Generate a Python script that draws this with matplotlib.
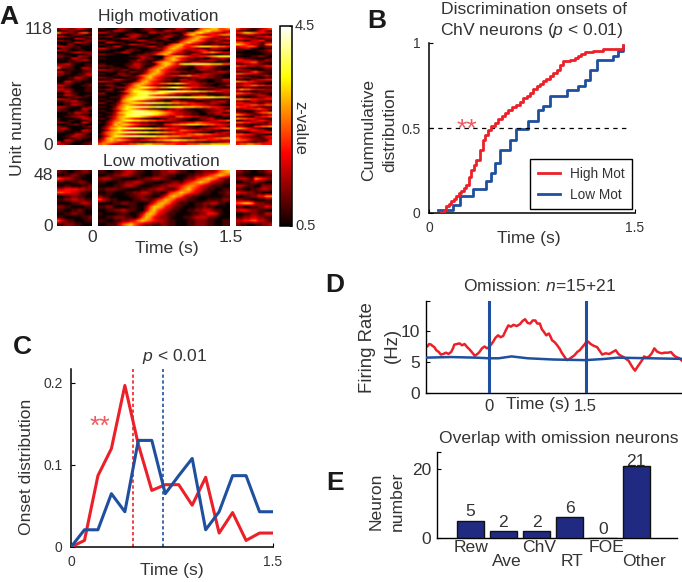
import numpy as np
import matplotlib
matplotlib.use("Agg")
import matplotlib.pyplot as plt

plt.rcParams['font.family'] = ['Liberation Sans', 'DejaVu Sans']
plt.rcParams['mathtext.fontset'] = 'custom'
plt.rcParams['mathtext.rm'] = 'Liberation Sans'
plt.rcParams['mathtext.it'] = 'Liberation Sans:italic'

W, H = 682, 582
TXT = '#333333'
RED = '#ec2029'
BLUE = '#1f4f9f'
NAVY = '#1f2a80'
STAR = '#ee5a5f'

# ---------- Panel A: levels 0-9, top row first
HIGH_MAIN = """
11000 22110 01221 00011 33211 05667 7556
00113 32100 01122 11332 21100 56786 6543
33211 00011 00033 22110 01256 78654 3324
00011 00223 31100 01122 10467 54334 4566
11220 00033 21100 11331 01135 67654 3222
00001 13322 00001 12200 01356 75432 2334
22110 00011 33211 00110 13567 65422 3211
00332 11000 01122 11001 25675 43211 2233
11000 01133 22100 11035 67543 32112 2111
00113 30000 11233 11356 76445 67776 6554
33211 00011 00011 22467 65433 22113 3221
11000 00221 10001 12566 54223 34422 1100
00001 13310 00112 35675 43211 23556 5433
22110 00000 11223 56753 22113 32211 0011
00000 00011 23210 00456 76543 34456 7888
11000 00000 13221 00567 54322 11002 2332
00000 00011 32110 13567 64321 12233 2110
00000 00012 21103 56765 32113 32211 0011
11000 00113 32110 46775 47889 99887 7755
22110 00123 31003 56754 32211 33443 2110
00011 10022 31135 67543 21100 22332 1100
33221 12200 11256 75432 11001 13322 1101
00110 11022 11356 75433 32211 00112 2332
11000 22110 02467 65321 10011 22332 2110
00001 12211 35676 54334 45564 43322 1100
22110 00011 24675 43211 00112 23322 1100
00113 32110 35665 43221 13322 11000 1133
33221 10002 46754 32110 02233 21100 1122
00110 01135 67654 45566 76543 32211 0011
11221 00246 76543 21100 11223 32110 0113
00011 22356 78876 56678 87654 43322 1100
11220 00467 76543 21100 22331 10011 2233
00110 13568 88876 78899 98877 76655 4433
22000 01367 89999 98765 44332 21100 1122
11000 13567 88865 44322 11002 23311 0011
00011 14678 99999 99999 98888 88888 7776
11000 15789 88765 43221 10011 33221 1001
00110 26776 54322 11003 32211 00112 2331
22001 35678 88999 88776 65544 33223 3221
00011 46765 43321 10011 22334 43322 1100
11002 56889 99988 99888 88777 66554 4332
00013 57876 54321 10022 33110 01122 3311
11002 46789 99877 65443 32211 00112 2334
00113 67889 99998 87654 33221 10022 3311
10013 56899 99998 76544 33221 10011 2233
00124 67888 87654 43322 55443 32211 0011
11024 67654 32110 01133 22110 02233 1100
00135 67887 76655 44332 21100 11223 3445
10246 76543 32211 00112 23344 55443 3221
00247 67765 43322 11445 56677 76655 4433
01356 76543 21100 11223 32211 00112 2331
02467 88999 88776 65544 33221 12233 4455
01356 75432 21100 11223 35544 33221 1001
03567 88999 88877 76655 44332 21100 2233
13567 65433 21100 11223 34455 66554 4332
02468 89999 99888 77766 65554 44333 2223
13676 54322 11223 34433 22112 23344 5566
24676 76543 34455 66778 87766 55544 4333
35665 43221 10011 22334 43322 11001 1223
56543 34455 66776 66555 44455 56667 7777
"""
HIGH_LEFT = """
23322 34321 01122 10000 63322 14552 11001 22100 33211 00112
00000 33211 22110 00122 00011 33221 10022 00110 33221 11000
02210 11000 32210 01100 00112 33222 11000 00112 22110 03221
11003 32110 00011 22331 00011 11000 22331 00011 33221 00011
52211 00332 10011 00122 33110 00112 22110 01133 21000 11223
00011 33210 00011 22110 00332 11000 11221 00011 33210 00112
22110 00011 33221 00011 22331 00011 00221 10000 11332 10011
00011 22110 33221 10000 11223 31100 00112 22110 00113 32100
33210 00112 21100 00332 21100 11220 00011 33221 00011 22110
00112 23321 10000 11332 10011 00112 22110 00331 00011 21100
21100 00112 23310 00011 22110 00332 11000 11221 00011 33210
00113 32211 00011 22110 00332 11000 41221 00011 33210 00112
"""
HIGH_RIGHT = """
53321 12345 21100 13421 45776 54433 12233 22110 32211 23344
44332 21122 22113 34411 55443 32133 76543 32156 34455 41122
22331 10011 11000 01123 00000 00112 11000 00011 00001 12210
22111 00001 44332 21132 33445 52211 11223 32110 54433 22344
21100 01122 33221 10011 11224 53211 55443 32110 21100 11232
33221 10011 11002 23344 65544 32211 22332 21100 33445 54433
11221 10011 46554 33322 22110 01122 55443 22110 32211 23321
11001 12233 66554 43344 22113 32211 44332 21133 33445 54455
54433 22111 22334 45432 11000 22331 32211 24556 65432 11223
22110 33445 65544 32211 11223 34432 55443 32213 22110 11223
33211 44556 76543 21100 22334 43321 11002 23344 55443 21100
43322 11234 54332 21133 65543 22114 33221 12234 45566 55444
"""
LOW_MAIN = """
11001 12332 11001 12233 21100 11222 3567
00112 23321 10001 12211 00011 22345 6765
23321 10000 11223 32110 00122 45676 5321
11000 11223 32110 00112 21345 67653 2211
00001 12332 10001 12233 34566 54321 1100
11222 11000 01122 33211 35675 43211 0011
00110 00112 23321 10145 67654 32110 0112
21100 00011 22110 02467 65321 10000 0011
53211 00001 12212 45765 32211 00011 1122
00001 12211 00024 67653 21100 11223 3110
11220 00011 00257 76432 11000 11211 0000
00112 23211 00367 54321 10011 22332 1100
10000 11100 13676 43211 00001 12244 3100
00112 22110 25764 32210 00112 33321 1000
11001 12234 67654 33211 00011 22211 0011
00111 35675 43221 12211 00011 22211 0011
"""
LOW_LEFT = """
21100 11221 00112 21100 54332 11000 11001 12210
00110 00112 33444 43322 55443 32110 00112 21100
11223 32211 00001 12332 22110 00011 11001 12100
00112 21100 11000 00112 53211 00011 11222 11000
"""
LOW_RIGHT = """
22110 01123 11000 00011 23321 65432 00112 21100
33211 00222 11001 12332 43322 11000 00112 24466
22110 00011 56776 32211 11001 12243 34432 21100
00112 21133 11223 32211 33445 53321 21100 11223
"""
ONSET_ZLIM = (0.5, 4.5)

# ---------- Panel B
B_RED_T = [.09,.11,.126,.145,.163,.18,.2,.22,.236,.255,.272,.29,.309,.325,.345,.37,.394,.41,.43,.455,.479,.505,.528,.55,.576,.605,.637,.66,.686,.71,.734,.76,.783,.81,.831,.855,.88,.905,.929,.955,.977,1.026,1.06,1.087,1.11,1.135,1.196,1.269,1.366,1.415]
B_RED_Y = [0,.02,.04,.055,.07,.085,.10,.115,.127,.145,.167,.21,.255,.285,.314,.373,.431,.46,.49,.51,.53,.55,.57,.59,.608,.625,.637,.655,.676,.69,.706,.73,.749,.76,.775,.79,.804,.825,.843,.87,.896,.898,.91,.922,.935,.947,.955,.965,.967,.99]
B_BLUE_T = [.066,.175,.224,.321,.418,.455,.479,.515,.588,.637,.722,.795,.831,.88,1.002,1.087,1.135,1.172,1.22,1.342,1.378,1.415]
B_BLUE_Y = [.016,.05,.098,.143,.186,.235,.294,.373,.431,.494,.539,.608,.627,.686,.725,.749,.784,.839,.902,.922,.955,.985]

# ---------- Panel C
C_T = [0,.1,.2,.3,.4,.5,.6,.7,.8,.9,1.0,1.1,1.2,1.3,1.4,1.5]
C_RED = [0,.008,.087,.12,.197,.125,.069,.076,.076,.051,.085,.017,.042,.008,.017,.017]
C_BLUE = [0,.021,.021,.065,.043,.13,.13,.065,.087,.108,.021,.043,.087,.087,.043,.043]
C_MED_RED, C_MED_BLUE = .459, .68

# ---------- Panel D
D_T = [-.99,-.96,-.93,-.9,-.88,-.85,-.82,-.78,-.75,-.71,-.67,-.63,-.59,-.56,-.54,-.5,-.46,-.42,-.38,-.34,-.30,-.26,-.22,-.18,-.15,-.11,-.07,-.03,0,.03,.06,.1,.14,.18,.22,.26,.30,.34,.38,.43,.48,.52,.56,.6,.64,.68,.72,.75,.79,.82,.85,.89,.93,.96,.98,1.02,1.06,1.1,1.13,1.17,1.21,1.25,1.29,1.33,1.37,1.41,1.45,1.49,1.52,1.55,1.58,1.63,1.68,1.72,1.76,1.81,1.87,1.92,1.97,2.01,2.05,2.09,2.13,2.17,2.21,2.24,2.27,2.3,2.34,2.38,2.41,2.45,2.49,2.53,2.57,2.61,2.65,2.69,2.73,2.78,2.83,2.87,2.91,2.96,3.02]
D_RED = [7.7,7.5,7.9,7.8,7.6,7.4,6.9,6.6,6.2,6.3,6.5,6.3,6.6,7.2,7.8,7.9,8.0,7.7,7.9,7.4,7.0,6.5,6.0,6.3,6.6,7.2,7.5,7.2,7.4,7.8,8.2,8.9,9.3,9.0,9.2,10.1,10.9,10.7,11.0,10.8,11.1,11.6,11.9,11.3,11.2,11.7,11.7,11.2,11.2,10.3,9.9,9.3,9.6,9.0,8.5,8.2,7.7,7.1,6.5,5.9,5.3,5.5,5.8,6.1,6.6,6.9,7.4,7.9,8.4,8.2,7.9,7.6,7.4,6.8,6.2,6.4,6.3,6.6,6.9,6.3,6.0,5.8,5.5,5.2,4.5,4.0,3.6,4.1,4.7,5.3,5.9,5.7,5.9,6.4,7.2,6.7,6.5,6.4,6.5,6.5,6.6,6.1,5.8,5.6,5.0]
D_BLUE_T = [-.99,-.6,-.2,0,.15,.35,.6,1.0,1.5,1.8,2.0,2.5,3.02]
D_BLUE = [5.7,5.8,5.7,5.6,5.6,5.9,5.6,5.4,5.3,5.5,5.7,5.6,5.5]

# ---------- Panel E
E_CATS = ['Rew','Ave','ChV','RT','FOE','Other']
E_VALS = [5,2,2,6,0,21]


fig = plt.figure(figsize=(W/100, H/100), dpi=100)

def axpx(x0, y0, x1, y1):
    return fig.add_axes([x0/W, 1-y1/H, (x1-x0)/W, (y1-y0)/H])

def ftext(x, y, s, size=12.6, color=TXT, ha='center', va='center', **kw):
    return fig.text(x/W, 1-y/H, s, fontsize=size, color=color, ha=ha, va=va, **kw)

def levels(block, ncol):
    digits = ''.join(block.split())
    a = np.array([int(c) for c in digits], float).reshape(-1, ncol)
    return ONSET_ZLIM[0] + a/10.5*(ONSET_ZLIM[1]-ONSET_ZLIM[0])

def heat(box, block, ncol):
    ax = axpx(*box)
    im = ax.imshow(levels(block, ncol), cmap='hot', vmin=ONSET_ZLIM[0], vmax=ONSET_ZLIM[1],
                   aspect='auto', interpolation='bilinear')
    ax.axis('off')
    return im

im = heat((98, 28, 230, 145), HIGH_MAIN, 34)
heat((57, 28, 92, 145), HIGH_LEFT, 10)
heat((236, 28, 272, 145), HIGH_RIGHT, 10)
heat((98, 170, 230, 226), LOW_MAIN, 34)
heat((57, 170, 92, 226), LOW_LEFT, 10)
heat((236, 170, 272, 226), LOW_RIGHT, 10)

cax = axpx(280, 26, 292, 226)
cb = fig.colorbar(im, cax=cax)
cb.set_ticks([0.5, 4.5])
cb.set_ticklabels([])
cb.ax.tick_params(length=2, width=.6, direction='in', color='k')
cb.outline.set_linewidth(1.1)

ftext(9, 17, 'A', 19, color='#1a1a1a', fontweight='bold')
ftext(158, 17, 'High motivation')
ftext(161, 162, 'Low motivation')
for y, s in [(30, '118'), (146, '0'), (175, '48'), (227, '0')]:
    ftext(53, y, s, ha='right')
ftext(18, 128, 'Unit number', rotation=90)
ftext(92, 238, '0')
ftext(231, 238, '1.5')
ftext(167, 248, 'Time (s)')
ftext(300, 128, 'z-value', 12, rotation=-90)
ftext(305, 26, '4.5', 10.5)
ftext(306, 226, '0.5', 10.5)

# ---------- B
ax = axpx(429, 43, 635, 213)
ax.step(B_RED_T, B_RED_Y, where='post', color=RED, lw=2, label='High Mot', zorder=3)
ax.step(B_BLUE_T, B_BLUE_Y, where='post', color=BLUE, lw=2, label='Low Mot', zorder=2)
ax.plot([0, 1.46], [.5, .5], color='k', lw=.9, dashes=(3.5, 3.5))
ax.set_xlim(0, 1.5); ax.set_ylim(0, 1)
ax.set_xticks([0, 1.5]); ax.set_xticklabels(['0', '1.5'])
ax.set_yticks([0, .5, 1]); ax.set_yticklabels(['0', '0.5', '1'])
ax.tick_params(direction='in', length=3, width=.8, labelsize=10, labelcolor=TXT, pad=6)
for s in ('top', 'right'):
    ax.spines[s].set_visible(False)
ax.spines['left'].set_linewidth(1.1); ax.spines['bottom'].set_linewidth(1.1)
leg = ax.legend(loc='lower right', bbox_to_anchor=(632/W, 1-209/H), bbox_transform=fig.transFigure,
                fancybox=False, framealpha=1, edgecolor='k', fontsize=9.8, labelcolor=TXT,
                borderaxespad=0, handlelength=1.6, labelspacing=.5, borderpad=.55, handletextpad=.75)
leg.get_frame().set_linewidth(1)
ftext(377, 21, 'B', 19, color='#1a1a1a', fontweight='bold')
ftext(534, 9, 'Discrimination onsets of')
ftext(532, 30, r'ChV neurons ($\mathit{p}$ < 0.01)')
ftext(529, 238, 'Time (s)')
ftext(369, 130, 'Cummulative', rotation=90)
ftext(390, 130, 'distribution', rotation=90)
ftext(467, 130, '**', 19, color=STAR)

# ---------- C
ax = axpx(71, 369, 273, 547)
ax.plot(C_T, C_RED, color=RED, lw=2.2, zorder=3)
ax.plot(C_T, C_BLUE, color=BLUE, lw=2.2, zorder=4)
ax.axvline(C_MED_RED, color=RED, lw=1.2, dashes=(2, 1.5), zorder=2)
ax.axvline(C_MED_BLUE, color=BLUE, lw=1.2, dashes=(2, 1.5), zorder=2)
ax.set_xlim(0, 1.5); ax.set_ylim(0, (547-369)/(547-383)*.2)
ax.set_xticks([0, 1.5]); ax.set_xticklabels(['0', '1.5'])
ax.set_yticks([0, .1, .2]); ax.set_yticklabels(['0', '0.1', '0.2'])
ax.tick_params(direction='in', length=3, width=.8, labelsize=10, labelcolor=TXT, pad=6)
for s in ('top', 'right'):
    ax.spines[s].set_visible(False)
ax.spines['left'].set_linewidth(1.1); ax.spines['bottom'].set_linewidth(1.1)
ftext(22, 347, 'C', 19, color='#1a1a1a', fontweight='bold')
ftext(175, 357, r'$\mathit{p}$ < 0.01')
ftext(172, 571, 'Time (s)')
ftext(27, 467, 'Onset distribution', rotation=90)
ftext(100, 427, '**', 19, color=STAR)

# ---------- D
ax = axpx(426, 301, 682, 393)
ax.plot(D_T, D_RED, color=RED, lw=1.8, zorder=2)
ax.plot(D_BLUE_T, D_BLUE, color=BLUE, lw=1.8, zorder=3)
ax.axvline(0, color=BLUE, lw=2.2, zorder=4)
ax.axvline(1.5, color=BLUE, lw=2.2, zorder=4)
ax.set_xlim(-.98, 3.0); ax.set_ylim(0, 92/6.2)
ax.set_xticks([0, 1.5]); ax.set_xticklabels(['0', '1.5'])
ax.set_yticks([0, 5, 10, 92/6.2]); ax.set_yticklabels(['0', '5', '10', ''])
ax.tick_params(axis='y', direction='in', length=3, width=.8, labelsize=12.5, labelcolor=TXT, pad=4)
ax.tick_params(axis='x', length=0, labelsize=12, labelcolor=TXT, pad=4)
for s in ('top', 'right'):
    ax.spines[s].set_visible(False)
ax.spines['left'].set_linewidth(1); ax.spines['bottom'].set_linewidth(1)
ftext(335, 285, 'D', 19, color='#1a1a1a', fontweight='bold')
ftext(539, 286, r'Omission: $\mathit{n}$=15+21')
ftext(538, 405, 'Time (s)')
ftext(368, 348, 'Firing Rate', 13.4, rotation=90)
ftext(392, 345, '(Hz)', 13.4, rotation=90)

# ---------- E
ax = axpx(437, 452, 677, 538)
xs = np.arange(1, len(E_VALS)+1)
ax.bar(xs, E_VALS, width=.82, color=NAVY, edgecolor='#111111', lw=1, zorder=3)
for x, v in zip(xs, E_VALS):
    ax.text(x, v+.4 if v < 21 else v-1, str(v), ha='center', va='bottom', fontsize=12.6, color=TXT, zorder=2)
ax.set_xlim(0, 7.23); ax.set_ylim(0, 86/69*20)
ax.set_xticks([])
ax.set_yticks([0, 20, 86/69*20]); ax.set_yticklabels(['0', '20', ''])
ax.tick_params(axis='y', direction='in', length=3, width=.8, labelsize=12.5, labelcolor=TXT, pad=4)
for s in ('top', 'right'):
    ax.spines[s].set_visible(False)
ax.spines['left'].set_linewidth(1); ax.spines['bottom'].set_linewidth(1)
for name, px, py in zip(E_CATS, [471, 507, 539, 572, 607, 644], [547, 561, 547, 561, 547, 561]):
    ftext(px, py, name)
ftext(335, 483, 'E', 19, color='#1a1a1a', fontweight='bold')
ftext(559, 438, 'Overlap with omission neurons')
ftext(376, 501, 'Neuron', rotation=90)
ftext(397, 501, 'number', rotation=90)

fig.savefig('out.png', dpi=100)
